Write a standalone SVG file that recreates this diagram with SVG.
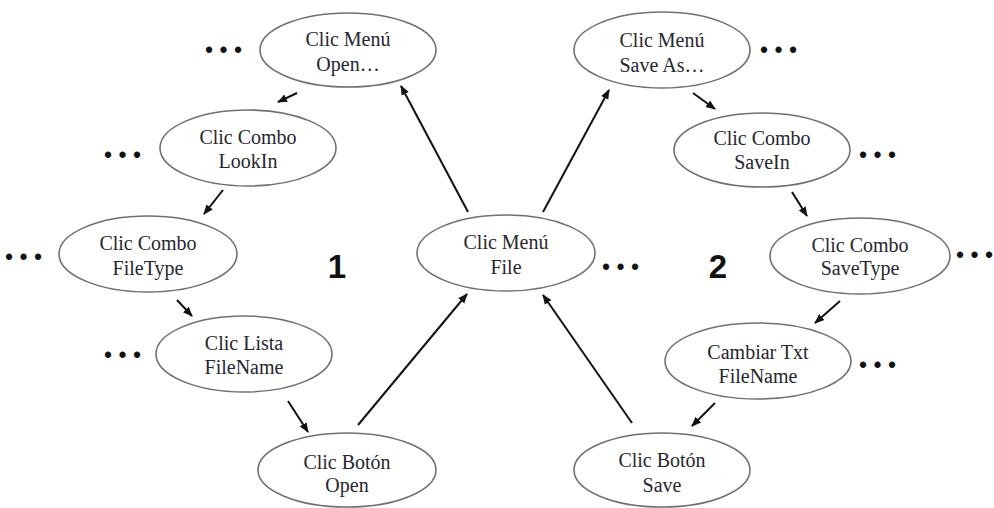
<svg xmlns="http://www.w3.org/2000/svg" width="994" height="508" viewBox="0 0 994 508">
  <style>
    .node ellipse { fill: #ffffff; stroke: #707070; stroke-width: 1.6; }
    .node text { font-family: "Liberation Serif", "Times New Roman", serif; font-size: 20px; fill: #262630; text-anchor: middle; }
    .dots { font-family: "Liberation Sans", Arial, sans-serif; font-size: 23px; fill: #111; }
    .num { font-family: "Liberation Sans", Arial, sans-serif; font-size: 33px; font-weight: bold; fill: #111; text-anchor: middle; }
    .edges line { stroke: #111; stroke-width: 2; marker-end: url(#arrow); }
  </style>
  <defs>
    <marker id="arrow" markerUnits="userSpaceOnUse" markerWidth="10" markerHeight="10" viewBox="0 0 10 10" refX="9" refY="5" orient="auto">
      <path d="M0,1 L10,5 L0,9 Z" fill="#111"/>
    </marker>
  </defs>
  <rect width="994" height="508" fill="#ffffff"/>

  <!-- left branch (1) -->
  <g id="menu-open" class="node">
    <ellipse cx="348" cy="50" rx="88" ry="37"/>
    <text x="348" y="46">Clic Menú</text>
    <text x="348" y="71">Open…</text>
  </g>
  <g id="combo-lookin" class="node">
    <ellipse cx="248" cy="148" rx="88" ry="38"/>
    <text x="248" y="144">Clic Combo</text>
    <text x="248" y="168">LookIn</text>
  </g>
  <g id="combo-filetype" class="node">
    <ellipse cx="148" cy="254" rx="89" ry="38"/>
    <text x="148" y="250">Clic Combo</text>
    <text x="148" y="275">FileType</text>
  </g>
  <g id="lista-filename" class="node">
    <ellipse cx="244" cy="354" rx="88" ry="38"/>
    <text x="244" y="350">Clic Lista</text>
    <text x="244" y="374">FileName</text>
  </g>
  <g id="boton-open" class="node">
    <ellipse cx="347" cy="470" rx="89" ry="37"/>
    <text x="347" y="469">Clic Botón</text>
    <text x="347" y="492">Open</text>
  </g>

  <!-- centre -->
  <g id="menu-file" class="node">
    <ellipse cx="506" cy="253" rx="89" ry="38"/>
    <text x="506" y="249">Clic Menú</text>
    <text x="506" y="274">File</text>
  </g>

  <!-- right branch (2) -->
  <g id="menu-saveas" class="node">
    <ellipse cx="662" cy="50" rx="88" ry="38"/>
    <text x="662" y="47">Clic Menú</text>
    <text x="662" y="72">Save As…</text>
  </g>
  <g id="combo-savein" class="node">
    <ellipse cx="762" cy="150" rx="88" ry="37"/>
    <text x="762" y="145">Clic Combo</text>
    <text x="762" y="169">SaveIn</text>
  </g>
  <g id="combo-savetype" class="node">
    <ellipse cx="860" cy="256" rx="90" ry="38"/>
    <text x="860" y="252">Clic Combo</text>
    <text x="860" y="275">SaveType</text>
  </g>
  <g id="txt-filename" class="node">
    <ellipse cx="758" cy="361" rx="93" ry="38"/>
    <text x="758" y="359">Cambiar Txt</text>
    <text x="758" y="383">FileName</text>
  </g>
  <g id="boton-save" class="node">
    <ellipse cx="662" cy="470" rx="88" ry="37"/>
    <text x="662" y="467">Clic Botón</text>
    <text x="662" y="492">Save</text>
  </g>

  <!-- ellipsis markers beside the nodes -->
  <g id="ellipses" class="dots">
    <text x="205" y="58">• • •</text>
    <text x="104" y="163">• • •</text>
    <text x="5" y="265">• • •</text>
    <text x="104" y="363">• • •</text>
    <text x="602" y="275">• • •</text>
    <text x="760" y="58">• • •</text>
    <text x="859" y="163">• • •</text>
    <text x="956" y="263">• • •</text>
    <text x="859" y="373">• • •</text>
  </g>

  <g id="labels" class="num">
    <text x="337" y="278">1</text>
    <text x="718" y="278">2</text>
  </g>

  <g id="connectors" class="edges">
    <line x1="297" y1="93" x2="278" y2="102"/>
    <line x1="223" y1="190" x2="204" y2="214"/>
    <line x1="177" y1="300" x2="192" y2="316"/>
    <line x1="288" y1="401" x2="308" y2="432"/>
    <line x1="358" y1="425" x2="467" y2="294"/>
    <line x1="468" y1="212" x2="401" y2="86"/>
    <line x1="543" y1="212" x2="609" y2="90"/>
    <line x1="693" y1="93" x2="715" y2="109"/>
    <line x1="792" y1="192" x2="807" y2="216"/>
    <line x1="840" y1="301" x2="815" y2="323"/>
    <line x1="715" y1="403" x2="692" y2="426"/>
    <line x1="632" y1="423" x2="543" y2="295"/>
  </g>
</svg>
